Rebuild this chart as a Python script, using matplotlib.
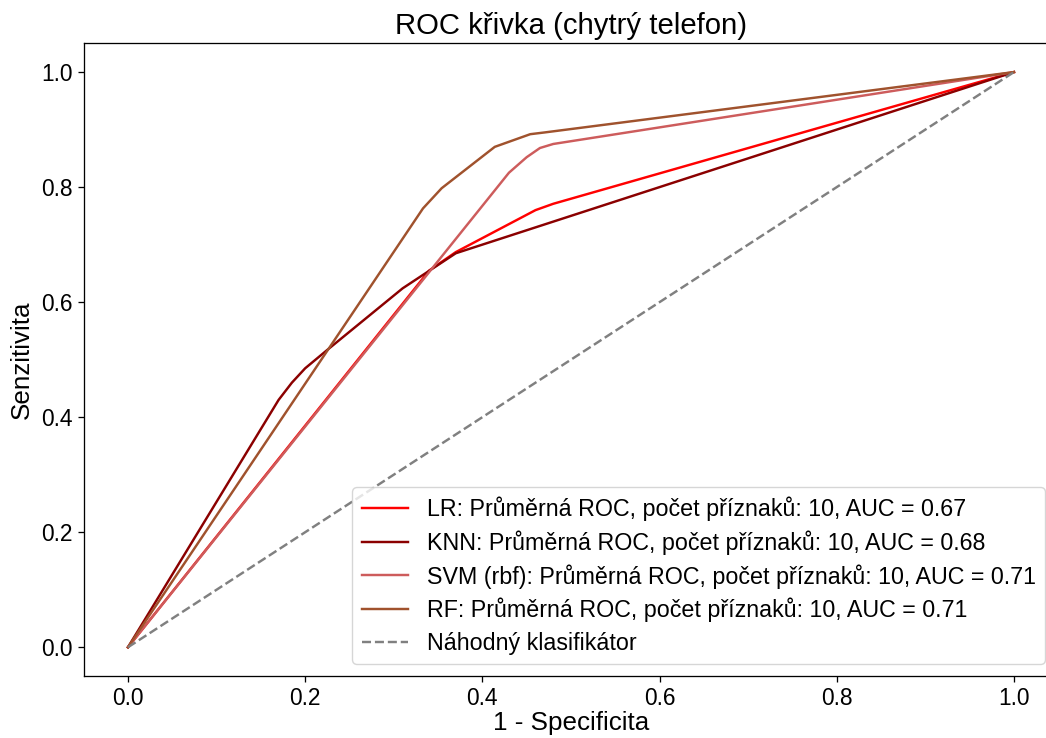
import matplotlib
matplotlib.use("Agg")
import matplotlib.pyplot as plt

plt.rcParams['font.family'] = ['Liberation Sans', 'DejaVu Sans']

title = "ROC křivka (chytrý telefon)"
xlabel = "1 - Specificita"
ylabel = "Senzitivita"

lr_fpr = [0.0, 0.34, 0.37, 0.46, 0.48, 1.0]
lr_tpr = [0.0, 0.655, 0.687, 0.760, 0.771, 1.0]

knn_fpr = [0.0, 0.17, 0.185, 0.20, 0.225, 0.31, 0.37, 1.0]
knn_tpr = [0.0, 0.43, 0.46, 0.485, 0.517, 0.624, 0.685, 1.0]

svm_fpr = [0.0, 0.43, 0.45, 0.465, 0.48, 1.0]
svm_tpr = [0.0, 0.825, 0.852, 0.868, 0.875, 1.0]

rf_fpr = [0.0, 0.333, 0.354, 0.414, 0.454, 0.47, 1.0]
rf_tpr = [0.0, 0.763, 0.798, 0.870, 0.892, 0.895, 1.0]

labels = [
    "LR: Průměrná ROC, počet příznaků: 10, AUC = 0.67",
    "KNN: Průměrná ROC, počet příznaků: 10, AUC = 0.68",
    "SVM (rbf): Průměrná ROC, počet příznaků: 10, AUC = 0.71",
    "RF: Průměrná ROC, počet příznaků: 10, AUC = 0.71",
]
random_label = "Náhodný klasifikátor"
colors = ["red", "darkred", "indianred", "sienna"]

s = 1.17
fig = plt.figure(figsize=(10.46, 7.38), dpi=100)
ax = fig.add_axes([0.0800, 0.0840, 0.9317, 0.8573])

for fpr, tpr, lab, col in zip([lr_fpr, knn_fpr, svm_fpr, rf_fpr],
                              [lr_tpr, knn_tpr, svm_tpr, rf_tpr],
                              labels, colors):
    ax.plot(fpr, tpr, color=col, lw=1.5 * s, label=lab)
ax.plot([0, 1], [0, 1], linestyle='--', color='gray', lw=1.5 * s,
        label=random_label)

ax.set_xlim(-0.05, 1.05)
ax.set_ylim(-0.05, 1.05)
ax.set_xticks([0.0, 0.2, 0.4, 0.6, 0.8, 1.0])
ax.set_yticks([0.0, 0.2, 0.4, 0.6, 0.8, 1.0])
ax.tick_params(labelsize=14 * s, length=3.5 * s, width=0.8 * s, pad=3.5 * s)
for sp in ax.spines.values():
    sp.set_linewidth(0.8 * s)
ax.set_title(title, fontsize=18 * s, pad=6 * s)
ax.set_xlabel(xlabel, fontsize=16 * s, labelpad=0.5)
ax.set_ylabel(ylabel, fontsize=16 * s, labelpad=4 * s)

ax.legend(loc='lower right', bbox_to_anchor=(1045/1046, 74/738),
          bbox_transform=fig.transFigure, borderaxespad=0, fontsize=14.3 * s,
          labelspacing=0.4)

fig.savefig("out.png", dpi=100)
